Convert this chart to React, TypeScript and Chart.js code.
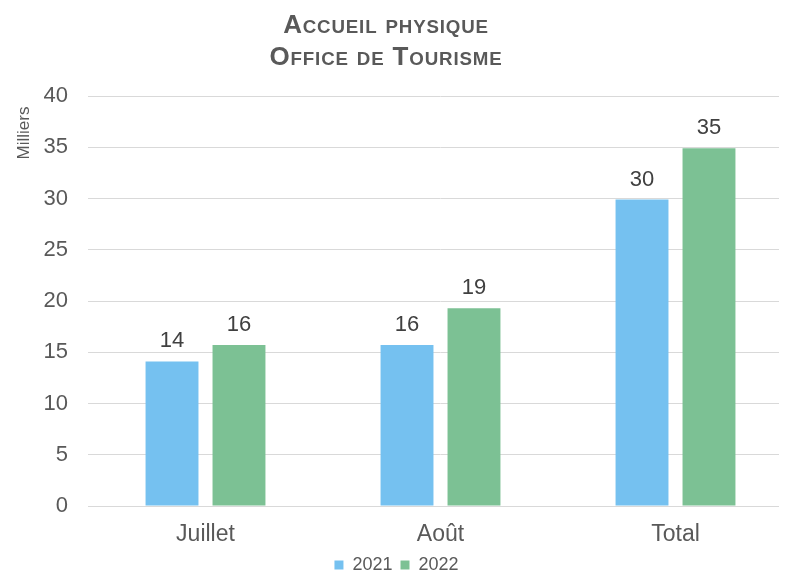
import React, { useEffect, useRef } from "react";
import { Chart, registerables } from "chart.js";

Chart.register(...registerables);

const categories = ["Juillet", "Août", "Total"];
const series2021 = [14.1, 15.7, 29.9];
const series2022 = [15.7, 19.3, 34.9];
const seriesNames = ["2021", "2022"];
const yTicksMax = 40;
const yTicksStep = 5;
const titleLines = ["Accueil physique", "Office de Tourisme"];
const unitLabel = "Milliers";

const FONT = '"Liberation Sans", Arial, sans-serif';
const TEXT = "#595959";

const titlePlugin = {
  id: "customTitle",
  afterDraw(chart: any) {
    const ctx = chart.ctx;
    // Title (small caps)
    ctx.save();
    ctx.font = `small-caps bold 25px ${FONT}`;
    try { (ctx as any).fontVariantCaps = "small-caps"; } catch (e) {}
    try { (ctx as any).letterSpacing = "0.8px"; } catch (e) {}
    ctx.fillStyle = TEXT;
    ctx.textAlign = "center";
    ctx.textBaseline = "alphabetic";
    ctx.translate(386, 0);
    ctx.scale(1.04, 1);
    ctx.fillText(titleLines[0], 0, 33);
    ctx.fillText(titleLines[1], 0, 65);
    ctx.restore();
    // Display-unit label
    ctx.save();
    ctx.font = `17px ${FONT}`;
    ctx.fillStyle = TEXT;
    ctx.textAlign = "center";
    ctx.textBaseline = "middle";
    ctx.translate(24.5, 133);
    ctx.rotate(-Math.PI / 2);
    ctx.fillText(unitLabel, 0, 0);
    ctx.restore();
  },
};

const valueLabels = {
  id: "valueLabels",
  afterDatasetsDraw(chart: any) {
    const ctx = chart.ctx;
    ctx.save();
    ctx.font = `22px ${FONT}`;
    ctx.fillStyle = "#404040";
    ctx.textAlign = "center";
    ctx.textBaseline = "alphabetic";
    chart.data.datasets.forEach((ds: any, di: number) => {
      const meta = chart.getDatasetMeta(di);
      meta.data.forEach((bar: any, i: number) => {
        ctx.fillText(String(Math.round(ds.data[i])), bar.x, bar.y - 14);
      });
    });
    ctx.restore();
  },
};

export default function App() {
  const ref = useRef<HTMLCanvasElement | null>(null);
  useEffect(() => {
    if (!ref.current) return;
    const chart = new Chart(ref.current, {
      type: "bar",
      data: {
        labels: categories,
        datasets: [
          { label: seriesNames[0], data: series2021, backgroundColor: "#75C1F0" },
          { label: seriesNames[1], data: series2022, backgroundColor: "#7CC194" },
        ],
      },
      options: {
        animation: false,
        responsive: false,
        maintainAspectRatio: false,
        devicePixelRatio: 1,
        layout: { padding: { top: 96, right: 7, left: 0, bottom: 0 } },
        datasets: {
          bar: { categoryPercentage: 0.57, barPercentage: 0.79 },
        },
        scales: {
          x: {
            grid: { display: false, drawTicks: false },
            border: { display: true, color: "#D9D9D9" },
            ticks: { color: TEXT, font: { family: FONT, size: 23 }, padding: 15 },
            afterFit(s: any) { s.height = 42; },
          },
          y: {
            min: 0,
            max: yTicksMax,
            ticks: { stepSize: yTicksStep, color: TEXT, font: { family: FONT, size: 22 }, padding: 20 },
            grid: { color: "#D9D9D9", drawTicks: false, lineWidth: 1 },
            border: { display: false },
            title: { display: false },
            afterFit(s: any) { s.width = 88; },
          },
        },
        plugins: {
          title: { display: false },
          tooltip: { enabled: false },
          legend: {
            position: "bottom",
            labels: {
              color: TEXT,
              font: { family: FONT, size: 18 },
              boxWidth: 9,
              boxHeight: 9,
              padding: 8,
            },
          },
        },
      },
      plugins: [titlePlugin, valueLabels],
    } as any);
    return () => chart.destroy();
  }, []);
  return (
    <div style={{ margin: -8, width: 787, height: 581, overflow: "hidden", background: "#fff" }}>
      <canvas ref={ref} width={800} height={584} style={{ width: 800, height: 584, display: "block" }} />
    </div>
  );
}
